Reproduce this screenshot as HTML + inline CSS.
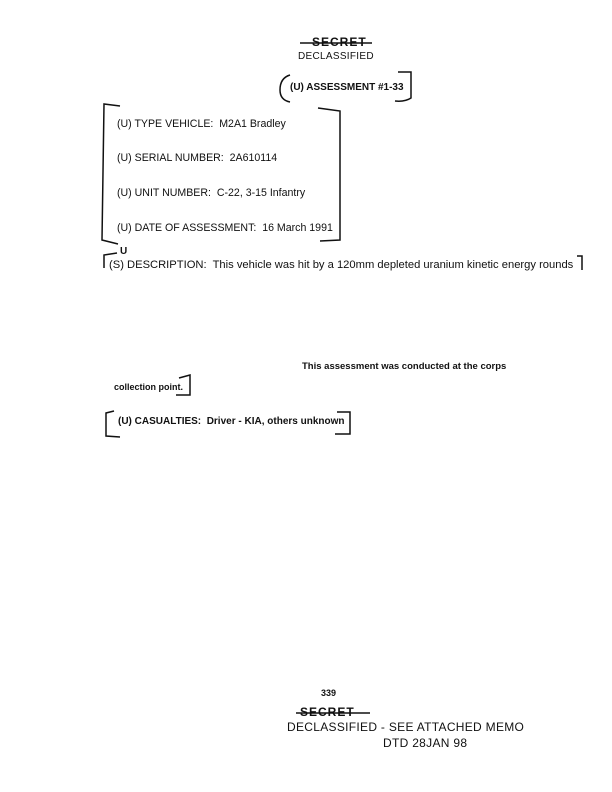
<!DOCTYPE html>
<html><head><meta charset="utf-8"><style>
html,body{margin:0;padding:0;background:#fff}
body{width:612px;height:792px;position:relative;overflow:hidden;font-family:"Liberation Sans",sans-serif;color:#111}
.t{position:absolute;white-space:nowrap;font-size:10.5px}
.b{font-weight:bold}
.h{font-family:"Liberation Sans",sans-serif;letter-spacing:0.3px}
svg{position:absolute;left:0;top:0}
</style></head><body>
<div class="t b" style="left:312px;top:35px;font-size:12px;letter-spacing:1px">SECRET</div>
<div class="t h" style="left:298px;top:51px;font-size:10px">DECLASSIFIED</div>
<div class="t b" style="left:290px;top:82px;font-size:10px">(U) ASSESSMENT #1-33</div>
<div class="t" style="left:117px;top:118px;font-size:10.6px">(U) TYPE VEHICLE:&nbsp; M2A1 Bradley</div>
<div class="t" style="left:117px;top:152px;font-size:10.6px">(U) SERIAL NUMBER:&nbsp; 2A610114</div>
<div class="t" style="left:117px;top:187px;font-size:10.6px">(U) UNIT NUMBER:&nbsp; C-22, 3-15 Infantry</div>
<div class="t" style="left:117px;top:222px;font-size:10.6px">(U) DATE OF ASSESSMENT:&nbsp; 16 March 1991</div>
<div class="t b" style="left:120px;top:246px;font-size:10px">U</div>
<div class="t" style="left:109px;top:259px;font-size:11.2px">(S) DESCRIPTION:&nbsp; This vehicle was hit by a 120mm depleted uranium kinetic energy rounds</div>
<div class="t b" style="left:302px;top:361px;font-size:9.5px">This assessment was conducted at the corps</div>
<div class="t b" style="left:114px;top:382px;font-size:9px">collection point.</div>
<div class="t b" style="left:118px;top:416px;font-size:10px">(U) CASUALTIES:&nbsp; Driver - KIA, others unknown</div>
<div class="t b" style="left:321px;top:688px;font-size:9px">339</div>
<div class="t b" style="left:300px;top:705px;font-size:12px;letter-spacing:1px">SECRET</div>
<div class="t h" style="left:287px;top:720px;font-size:12px">DECLASSIFIED - SEE ATTACHED MEMO</div>
<div class="t h" style="left:383px;top:736px;font-size:12px">DTD 28JAN 98</div>
<svg width="612" height="792" fill="none" stroke="#111" stroke-width="1.5">
<line x1="300" y1="43" x2="372" y2="43"/>
<line x1="296" y1="713" x2="370" y2="713"/>
<path d="M290 75 Q280 78 280 90 Q280 100 290 102"/>
<path d="M398 72 L411 72 L411 98 Q405 102 395 101"/>
<path d="M120 106 L104 104 L102 240 L118 244"/>
<path d="M318 108 L340 111 L340 240 L320 241"/>
<path d="M117 253 L104 255 L104 268"/>
<path d="M577 256 L582 256 L582 270"/>
<path d="M179 378 L190 375 L190 395 L176 395"/>
<path d="M114 411 L106 413 L106 436 L120 437"/>
<path d="M337 412 L350 412 L350 434 L335 434"/>
</svg>
</body></html>
